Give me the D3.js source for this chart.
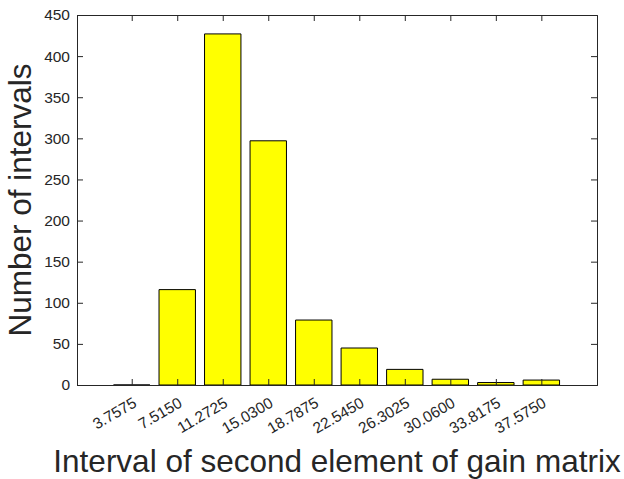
<!DOCTYPE html>
<html lang="en">
<head>
    <meta charset="UTF-8">
    <title>Interval histogram</title>
    <script src="https://d3js.org/d3.v7.min.js"></script>
    <style>
        body { margin: 0; background: #fff; }
        text { font-family: "Liberation Sans", Arial, sans-serif; fill: #262626; }
    </style>
</head>
<body>
    <svg id="chart" width="624" height="479"></svg>
    <script>
        // bin centres and counts
        const centers = [3.7575, 7.5150, 11.2725, 15.0300, 18.7875, 22.5450, 26.3025, 30.0600, 33.8175, 37.5750];
        const tickLabels = ['3.7575', '7.5150', '11.2725', '15.0300', '18.7875', '22.5450', '26.3025', '30.0600', '33.8175', '37.5750'];
        const counts = [0, 116, 427, 297, 79, 45, 19, 7, 3, 6];
        const yTicks = [0, 50, 100, 150, 200, 250, 300, 350, 400, 450];

        const width = 624, height = 479;
        const margin = { top: 15, right: 27, bottom: 94, left: 77 };

        const svg = d3.select('#chart');

        const x = d3.scaleLinear()
            .domain([-0.76, 42.17])
            .range([margin.left, width - margin.right]);
        const y = d3.scaleLinear()
            .domain([0, 450])
            .range([height - margin.bottom, margin.top]);

        const step = centers[1] - centers[0];
        const barW = 0.8 * step;

        // bars (path so a zero-height bar still shows its edge)
        svg.append('g')
            .selectAll('path')
            .data(centers.map((c, i) => ({ c, v: counts[i] })))
            .join('path')
            .attr('d', d => {
                const x0 = x(d.c - barW / 2), x1 = x(d.c + barW / 2);
                return `M${x0},${y(0)}H${x1}V${y(d.v)}H${x0}Z`;
            })
            .attr('fill', '#ffff00')
            .attr('stroke', '#000')
            .attr('stroke-width', 1);

        const axisColor = '#262626';
        const tickLen = 6;

        // bottom axis
        const axBottom = svg.append('g')
            .attr('transform', `translate(0,${y(0)})`)
            .call(d3.axisBottom(x).tickValues(centers).tickSize(-tickLen).tickFormat(''));
        // top axis
        const axTop = svg.append('g')
            .attr('transform', `translate(0,${y(450)})`)
            .call(d3.axisTop(x).tickValues(centers).tickSize(-tickLen).tickFormat(''));
        // left axis
        const axLeft = svg.append('g')
            .attr('transform', `translate(${x.range()[0]},0)`)
            .call(d3.axisLeft(y).tickValues(yTicks).tickSize(-tickLen).tickPadding(7));
        // right axis
        const axRight = svg.append('g')
            .attr('transform', `translate(${x.range()[1]},0)`)
            .call(d3.axisRight(y).tickValues(yTicks).tickSize(-tickLen).tickFormat(''));

        [axBottom, axTop, axLeft, axRight].forEach(g => {
            g.select('.domain').attr('stroke', axisColor).attr('stroke-width', 1);
            g.selectAll('.tick line').attr('stroke', axisColor);
        });
        axLeft.selectAll('.tick text')
            .attr('font-size', 15.5)
            .attr('fill', axisColor)
            .style('font-family', '"Liberation Sans", Arial, sans-serif');

        // rotated x tick labels
        svg.append('g')
            .selectAll('text')
            .data(centers)
            .join('text')
            .attr('transform', d => `translate(${x(d) + 6},${y(0) + 21}) rotate(-30)`)
            .attr('text-anchor', 'end')
            .attr('font-size', 15.5)
            .text((d, i) => tickLabels[i]);

        // axis titles
        svg.append('text')
            .attr('x', (x.range()[0] + x.range()[1]) / 2)
            .attr('y', 472)
            .attr('text-anchor', 'middle')
            .attr('font-size', 31.5)
            .text('Interval of second element of gain matrix');

        svg.append('text')
            .attr('transform', `translate(31,${(y(0) + y(450)) / 2}) rotate(-90)`)
            .attr('text-anchor', 'middle')
            .attr('font-size', 31.5)
            .text('Number of intervals');
    </script>
</body>
</html>
